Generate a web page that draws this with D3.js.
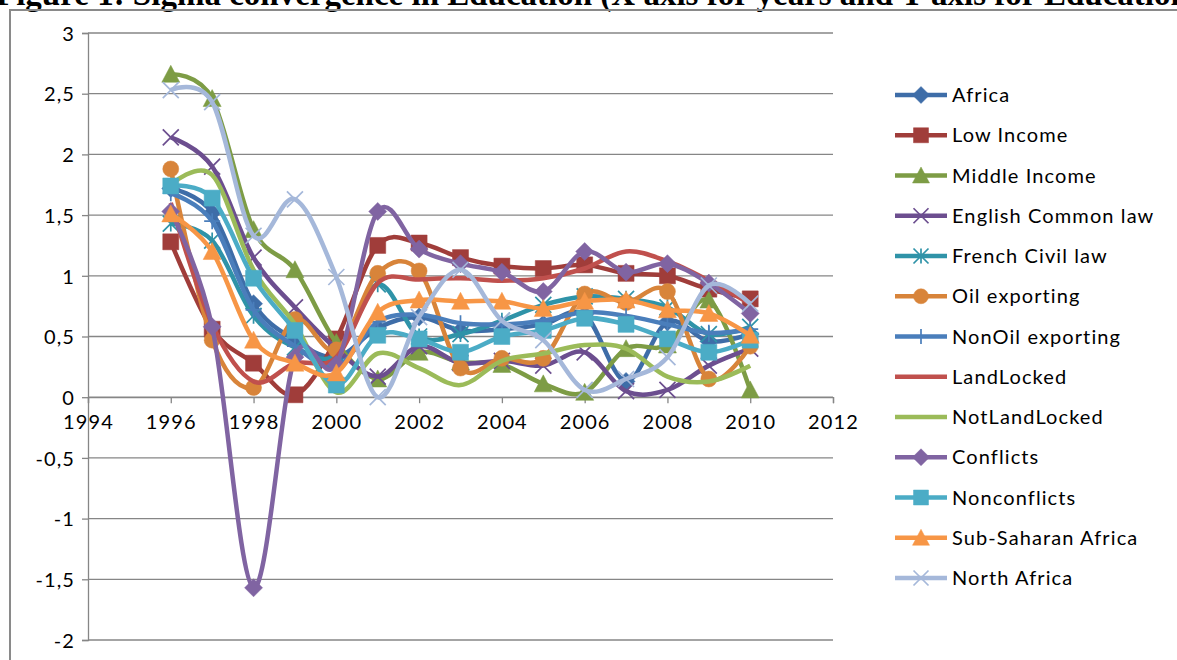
<!DOCTYPE html>
<html>
<head>
<meta charset="utf-8">
<script src="https://cdn.jsdelivr.net/npm/d3@7"></script>
<style>
  html, body { margin: 0; padding: 0; background: #fff; overflow: hidden; }
  svg { display: block; }
  .lbl { font-family: Lato, "Open Sans", sans-serif; font-size: 20px; letter-spacing: 1.1px; fill: #000; }
  .title { font-family: "Liberation Serif", "DejaVu Serif", serif; font-weight: bold; font-size: 33px; fill: #000; }
</style>
</head>
<body>
<svg id="chart" width="1177" height="660"></svg>
<script>
// years on the x axis
var years = [1996, 1997, 1998, 1999, 2000, 2001, 2002, 2003, 2004, 2005, 2006, 2007, 2008, 2009, 2010]

// one array per group
var africa        = [1.72, 1.52, 0.77, 0.47, 0.33, 0.57, 0.66, 0.55, 0.56, 0.60, 0.68, 0.13, 0.62, 0.46, 0.52]
var lowIncome     = [1.28, 0.56, 0.28, 0.02, 0.48, 1.25, 1.27, 1.15, 1.08, 1.06, 1.09, 1.02, 1.00, 0.89, 0.81]
var middleIncome  = [2.66, 2.46, 1.38, 1.05, 0.45, 0.15, 0.37, 0.29, 0.27, 0.11, 0.04, 0.40, 0.43, 0.80, 0.06]
var englishLaw    = [2.14, 1.90, 1.15, 0.74, 0.40, 0.17, 0.42, 0.28, 0.30, 0.26, 0.37, 0.05, 0.06, 0.26, 0.40]
var frenchLaw     = [1.43, 1.29, 0.67, 0.41, 0.35, 0.93, 0.50, 0.52, 0.63, 0.76, 0.83, 0.81, 0.74, 0.52, 0.58]
var oilExporting  = [1.88, 0.47, 0.08, 0.64, 0.39, 1.02, 1.04, 0.24, 0.32, 0.32, 0.85, 0.78, 0.87, 0.15, 0.42]
var nonOil        = [1.68, 1.45, 0.72, 0.42, 0.25, 0.62, 0.68, 0.61, 0.60, 0.63, 0.70, 0.67, 0.60, 0.53, 0.56]
var landLocked    = [1.60, 0.60, 0.13, 0.28, 0.33, 0.94, 0.97, 0.98, 0.96, 0.98, 1.06, 1.20, 1.12, 0.96, 0.77]
var notLandLocked = [1.75, 1.83, 1.05, 0.60, 0.04, 0.36, 0.24, 0.10, 0.30, 0.36, 0.43, 0.40, 0.17, 0.13, 0.26]
var conflicts     = [1.53, 0.58, -1.57, 0.33, 0.27, 1.53, 1.22, 1.10, 1.03, 0.87, 1.20, 1.03, 1.10, 0.94, 0.69]
var nonConflicts  = [1.74, 1.64, 0.98, 0.55, 0.10, 0.51, 0.48, 0.37, 0.50, 0.55, 0.65, 0.60, 0.48, 0.37, 0.47]
var subSaharan    = [1.51, 1.20, 0.47, 0.28, 0.20, 0.70, 0.80, 0.79, 0.79, 0.73, 0.79, 0.80, 0.72, 0.69, 0.51]
var northAfrica   = [2.53, 2.43, 1.33, 1.63, 0.99, 0.00, 0.66, 1.05, 0.63, 0.47, 0.06, 0.15, 0.33, 0.92, 0.77]

var names  = ['Africa', 'Low Income', 'Middle Income', 'English Common law', 'French Civil law',
  'Oil exporting', 'NonOil exporting', 'LandLocked', 'NotLandLocked', 'Conflicts',
  'Nonconflicts', 'Sub-Saharan Africa', 'North Africa']
var values = [africa, lowIncome, middleIncome, englishLaw, frenchLaw, oilExporting, nonOil,
  landLocked, notLandLocked, conflicts, nonConflicts, subSaharan, northAfrica]
var colors = ['#3e6da8', '#a03d3a', '#7d9c45', '#6c4e8f', '#2f93a8', '#d8843a', '#4a7ebb',
  '#c0504d', '#9bbb59', '#8064a2', '#4bacc6', '#f79646', '#a5b8da']
var markers = ['diamond', 'square', 'triangle', 'x', 'star', 'circle', 'plus',
  'none', 'none', 'diamond', 'square', 'triangle', 'x']

var yTicks = d3.range(-2, 3.01, 0.5)
var xTicks = d3.range(1994, 2012.1, 2)

var series = names.map((name, i) => ({
  name, color: colors[i], marker: markers[i],
  pts: years.map((yr, j) => ({yr, v: values[i][j]}))
}))

var svg = d3.select('#chart')

// title, mostly cut off by the top of the page (as in the scan)
svg.append('text').attr('class', 'title')
  .attr('x', -4).attr('y', 5)
  .text('Figure 1: Sigma convergence in Education (X axis for years and Y axis for Education)')

// chart area frame
svg.append('rect')
  .attr('x', 10).attr('y', 10).attr('width', 1300).attr('height', 800)
  .attr('fill', 'none').attr('stroke', '#8a8a8a').attr('stroke-width', 2)

var x = d3.scaleLinear().domain([1994, 2012]).range([88, 833])
var y = d3.scaleLinear().domain([-2, 3]).range([640, 33])

var fmt = d => d3.format('.1~f')(d).replace('.', ',').replace('−', '-')

// gridlines
svg.append('g').selectAll('line').data(yTicks).join('line')
  .attr('x1', x(1994)).attr('x2', x(2012))
  .attr('y1', d => y(d)).attr('y2', d => y(d))
  .attr('stroke', '#868686').attr('stroke-width', 1.3)

// y axis
var yAxis = svg.append('g')
  .attr('transform', `translate(${x(1994)},0)`)
  .call(d3.axisLeft(y).tickValues(yTicks).tickSize(6).tickPadding(7).tickFormat(fmt))
yAxis.select('.domain').attr('stroke', '#868686').attr('stroke-width', 1.3)
yAxis.selectAll('.tick line').attr('stroke', '#868686').attr('stroke-width', 1.3)
yAxis.selectAll('.tick text').attr('class', 'lbl').attr('dy', '0.36em')

// x axis sits on zero
var xAxis = svg.append('g')
  .attr('transform', `translate(0,${y(0)})`)
  .call(d3.axisBottom(x).tickValues(xTicks).tickSize(6).tickPadding(12).tickFormat(d3.format('d')))
xAxis.select('.domain').attr('stroke', '#868686').attr('stroke-width', 1.3)
xAxis.selectAll('.tick line').attr('stroke', '#868686').attr('stroke-width', 1.3)
xAxis.selectAll('.tick text').attr('class', 'lbl')

function markerPath(type, s){
  var h = s/2
  if (type == 'diamond') return `M0,${-h-1}L${h+1},0L0,${h+1}L${-h-1},0Z`
  if (type == 'square') return `M${-h},${-h}H${h}V${h}H${-h}Z`
  if (type == 'triangle') return `M0,${-h-1}L${h+1},${h}L${-h-1},${h}Z`
  if (type == 'circle') return `M${-h},0A${h},${h} 0 1,0 ${h},0A${h},${h} 0 1,0 ${-h},0Z`
  if (type == 'x') return `M${-h},${-h}L${h},${h}M${-h},${h}L${h},${-h}`
  if (type == 'star') return `M${-h},${-h}L${h},${h}M${-h},${h}L${h},${-h}M0,${-h}V${h}`
  if (type == 'plus') return `M0,${-h}V${h}M${-h},0H${h}`
  return ''
}
var filled = t => ['diamond', 'square', 'triangle', 'circle'].includes(t)

function drawMarker(sel, d, size){
  sel.append('path')
    .attr('d', markerPath(d.marker, size))
    .attr('fill', filled(d.marker) ? d.color : 'none')
    .attr('stroke', d.color)
    .attr('stroke-width', filled(d.marker) ? 0.5 : 1.7)
}

var line = d3.line()
  .x(d => x(d.yr))
  .y(d => y(d.v))
  .curve(d3.curveCatmullRom.alpha(0))

var plot = svg.append('g')
series.forEach(s => {
  var g = plot.append('g')
  g.append('path')
    .attr('d', line(s.pts))
    .attr('fill', 'none')
    .attr('stroke', s.color)
    .attr('stroke-width', 4.5)
    .attr('stroke-linejoin', 'round')
  if (s.marker == 'none') return
  s.pts.forEach(p => {
    var m = g.append('g').attr('transform', `translate(${x(p.yr)},${y(p.v)})`)
    drawMarker(m, s, 16)
  })
})

// legend
var legend = svg.append('g')
series.forEach((s, i) => {
  var cy = 95 + i*40.25
  var g = legend.append('g').attr('transform', `translate(0,${cy})`)
  g.append('line')
    .attr('x1', 895).attr('x2', 947)
    .attr('stroke', s.color).attr('stroke-width', 4.5)
  var m = g.append('g').attr('transform', 'translate(921,0)')
  drawMarker(m, s, 15)
  g.append('text').attr('class', 'lbl')
    .attr('x', 952).attr('y', 7)
    .text(s.name)
})
</script>
</body>
</html>
